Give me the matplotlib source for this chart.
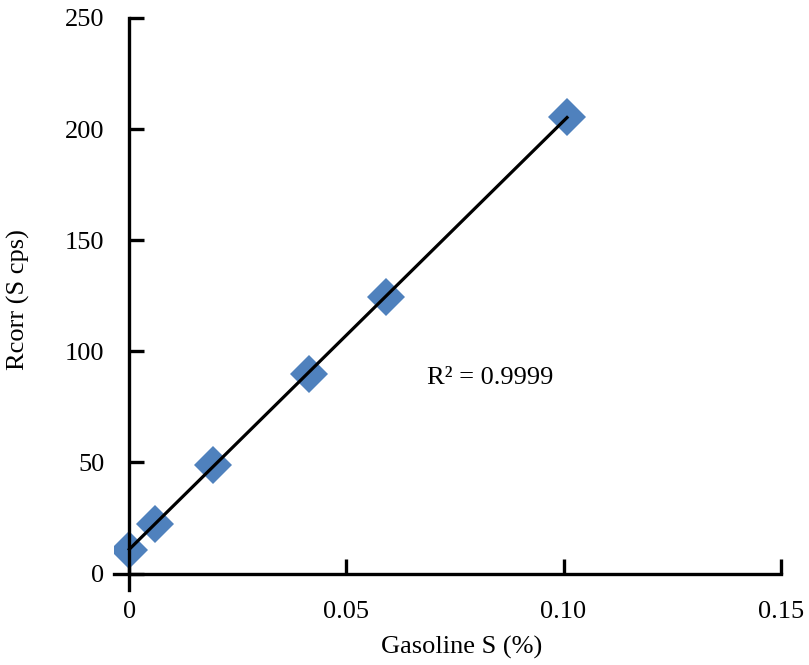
import numpy as np
import matplotlib
matplotlib.use("Agg")
import matplotlib.pyplot as plt

plt.rcParams['font.family'] = ['Liberation Serif', 'DejaVu Serif']

# data
sulfur_pct = [0.0, 0.006, 0.0193, 0.0414, 0.0591, 0.1008]
rcorr_cps = [10.8, 22.5, 49.0, 90.0, 124.5, 205.5]
xticks = [0, 0.05, 0.10, 0.15]
xticklabels = ['0', '0.05', '0.10', '0.15']
yticks = [0, 50, 100, 150, 200, 250]

x = np.array(sulfur_pct)
y = np.array(rcorr_cps)
slope, icpt = np.polyfit(x, y, 1)
xfit = np.array([x.min(), x.max()])

fig = plt.figure(figsize=(8.09, 6.65), dpi=100)
ax = fig.add_axes([0.141, 0.113, 0.824, 0.860])

ax.plot(x, y, linestyle='none', marker='D', ms=19, color='#4f81bd',
        markeredgewidth=0, zorder=2)
ax.plot(xfit, slope * xfit + icpt, color='black', lw=2.3, zorder=3)

ax.set_xlim(-0.0035, 0.15)
ax.set_ylim(-7.3, 250)
ax.spines['left'].set_position(('data', 0))
ax.spines['bottom'].set_position(('data', 0))
for s in ['top', 'right']:
    ax.spines[s].set_visible(False)
for s in ['left', 'bottom']:
    ax.spines[s].set_linewidth(2.4)

ax.set_xticks(xticks)
ax.set_xticklabels(xticklabels)
ax.set_yticks(yticks)
ax.tick_params(axis='both', direction='in', length=11, width=2.4, labelsize=19)
ax.tick_params(axis='y', pad=18)
ax.tick_params(axis='x', pad=20)

ax.set_xlabel('Gasoline S (%)', fontsize=19, va='center')
ax.set_ylabel('Rcorr (S cps)', fontsize=19, va='center')
ax.xaxis.set_label_coords(0.522, -0.101)
ax.yaxis.set_label_coords(-0.144, 0.507)
ax.text(0.0685, 88, 'R² = 0.9999', fontsize=19, ha='left', va='center')

fig.savefig('out.png', dpi=100)
